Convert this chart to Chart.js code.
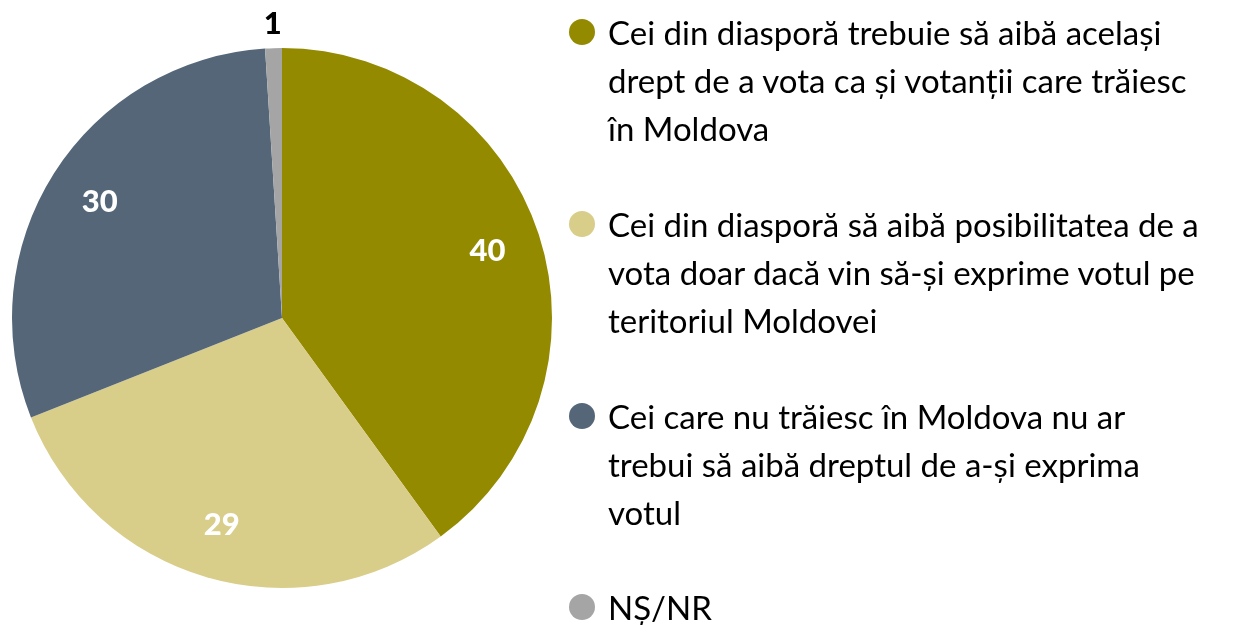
<!DOCTYPE html>
<html>
<head>
<meta charset="utf-8">
<script src="https://cdn.jsdelivr.net/npm/chart.js@4.4.0/dist/chart.umd.min.js"></script>
<style>
  html, body { margin: 0; padding: 0; background: #ffffff; }
  #wrap { position: relative; width: 1242px; height: 625px; overflow: hidden; }
  #chartBox { position: absolute; left: 0; top: 0; width: 564px; height: 625px; }
  #legend { position: absolute; left: 0; top: 0; width: 1242px; height: 625px; pointer-events: none; }
  .item { position: absolute; left: 608px; font-family: Lato, "Open Sans", sans-serif; font-size: 33px; line-height: 48px; color: #000; white-space: nowrap; }
  .dot { position: absolute; left: 569px; width: 26px; height: 26px; border-radius: 50%; }
</style>
</head>
<body>
<div id="wrap">
  <div id="chartBox"><canvas id="c"></canvas></div>
  <div id="legend"></div>
</div>
<script>
const categories = [
  ["Cei din diasporă trebuie să aibă același", "drept de a vota ca și votanții care trăiesc", "în Moldova"],
  ["Cei din diasporă să aibă posibilitatea de a", "vota doar dacă vin să-și exprime votul pe", "teritoriul Moldovei"],
  ["Cei care nu trăiesc în Moldova nu ar", "trebui să aibă dreptul de a-și exprima", "votul"],
  ["NȘ/NR"]
];
const values = [40, 29, 30, 1];
const colors = ["#948A00", "#D9CD8A", "#546678", "#A5A5A5"];

const labelPlugin = {
  id: 'sliceLabels',
  afterDatasetsDraw(chart) {
    const ctx = chart.ctx;
    const meta = chart.getDatasetMeta(0);
    const ds = chart.data.datasets[0];
    meta.data.forEach((arc, i) => {
      const p = arc.getProps(['x', 'y', 'startAngle', 'endAngle', 'outerRadius'], true);
      const mid = (p.startAngle + p.endAngle) / 2;
      const small = ds.data[i] < 5;
      const r = small ? p.outerRadius + 24 : p.outerRadius * 0.8;
      const x = p.x + Math.cos(mid) * r;
      const y = p.y + Math.sin(mid) * r;
      ctx.save();
      ctx.font = "900 31px Lato, 'Open Sans', sans-serif";
      ctx.fillStyle = small ? "#000000" : "#FFFFFF";
      ctx.textAlign = "center";
      ctx.textBaseline = "middle";
      ctx.fillText(String(ds.data[i]), x, y);
      ctx.restore();
    });
  }
};

new Chart(document.getElementById('c'), {
  type: 'pie',
  data: {
    labels: categories,
    datasets: [{
      data: values,
      backgroundColor: colors,
      borderWidth: 0
    }]
  },
  options: {
    responsive: true,
    maintainAspectRatio: false,
    animation: false,
    rotation: 0,
    layout: { padding: { top: 48, bottom: 37, left: 12, right: 12 } },
    plugins: {
      legend: { display: false },
      tooltip: { enabled: false }
    }
  },
  plugins: [labelPlugin]
});

// HTML legend built from categories/colors
const legend = document.getElementById('legend');
const tops = [8, 200, 392, 583];
categories.forEach((lines, i) => {
  const dot = document.createElement('div');
  dot.className = 'dot';
  dot.style.background = colors[i];
  dot.style.top = (tops[i] + 24 - 13) + 'px';
  legend.appendChild(dot);
  const it = document.createElement('div');
  it.className = 'item';
  it.style.top = tops[i] + 'px';
  it.innerHTML = lines.map(l => l.replace(/&/g,'&amp;').replace(/</g,'&lt;')).join('<br>');
  legend.appendChild(it);
});
</script>
</body>
</html>
